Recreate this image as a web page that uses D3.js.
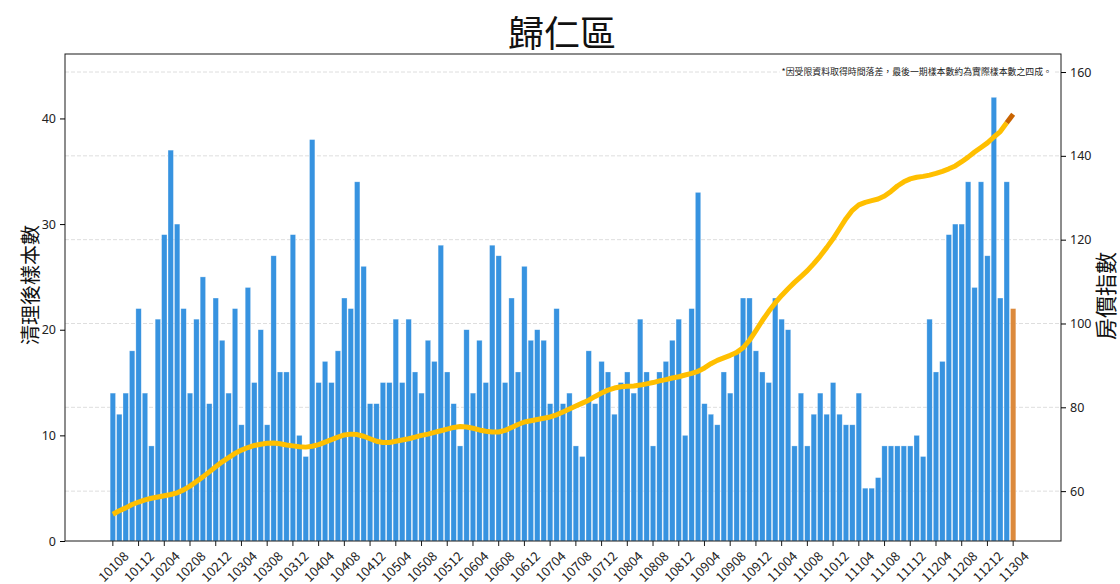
<!DOCTYPE html>
<html>
<head>
<meta charset="utf-8">
<script src="https://cdn.jsdelivr.net/npm/d3@7/dist/d3.min.js"></script>
<style>
    body { margin: 0; background: white; }
    text { font-family: "Noto Sans CJK TC", "Noto Sans", sans-serif; }
</style>
</head>
<body>
<div id="chart"></div>
<script>
// month codes (ROC year + month), 10108 .. 11304
const START_YEAR = 101, START_MONTH = 8, MONTH_COUNT = 141;
const MONTHS = [];
for (let i = 0; i < MONTH_COUNT; i++) {
    let m = START_MONTH - 1 + i;
    let y = START_YEAR + Math.floor(m / 12);
    MONTHS.push(String(y) + String(m % 12 + 1).padStart(2, "0"));
}

const TICK_LABELS = [
    "10108", "10112", "10204", "10208", "10212", "10304", "10308", "10312",
    "10404", "10408", "10412", "10504", "10508", "10512", "10604", "10608",
    "10612", "10704", "10708", "10712", "10804", "10808", "10812", "10904",
    "10908", "10912", "11004", "11008", "11012", "11104", "11108", "11112",
    "11204", "11208", "11212", "11304"
];

// 清理後樣本數 (left axis)
const SAMPLE_COUNTS = [
    14, 12, 14, 18, 22, 14, 9, 21, 29, 37, 30, 22, 14, 21, 25, 13, 23, 19, 14, 22,
    11, 24, 15, 20, 11, 27, 16, 16, 29, 10, 8, 38, 15, 17, 15, 18, 23, 22, 34, 26,
    13, 13, 15, 15, 21, 15, 21, 16, 14, 19, 17, 28, 16, 13, 9, 20, 14, 19, 15, 28,
    27, 15, 23, 16, 26, 19, 20, 19, 13, 22, 13, 14, 9, 8, 18, 13, 17, 16, 12, 15,
    16, 14, 21, 16, 9, 16, 17, 19, 21, 10, 22, 33, 13, 12, 11, 16, 14, 18, 23, 23,
    18, 16, 15, 23, 21, 20, 9, 14, 9, 12, 14, 12, 15, 12, 11, 11, 14, 5, 5, 6,
    9, 9, 9, 9, 9, 10, 8, 21, 16, 17, 29, 30, 30, 34, 24, 34, 27, 42, 23, 34,
    22
];

// 房價指數 (right axis)
const PRICE_INDEX = [
    54.5, 55.3, 56.0, 56.8, 57.4, 57.9, 58.3, 58.6, 58.9, 59.2,
    59.6, 60.3, 61.2, 62.3, 63.4, 64.6, 65.8, 67.0, 68.0, 69.0,
    69.8, 70.4, 70.9, 71.2, 71.4, 71.5, 71.3, 71.0, 70.8, 70.6,
    70.5, 70.7, 71.1, 71.7, 72.3, 72.9, 73.4, 73.6, 73.5, 73.1,
    72.5, 71.9, 71.6, 71.6, 71.9, 72.2, 72.5, 72.9, 73.3, 73.6,
    74.0, 74.4, 74.8, 75.2, 75.4, 75.3, 75.0, 74.6, 74.3, 74.1,
    74.1, 74.5, 75.2, 75.9, 76.5, 76.8, 77.1, 77.4, 77.7, 78.2,
    78.9, 79.6, 80.3, 81.0, 81.7, 82.6, 83.4, 84.1, 84.6, 84.9,
    85.0, 85.1, 85.3, 85.6, 85.9, 86.3, 86.6, 87.0, 87.3, 87.7,
    88.1, 88.6, 89.4, 90.4, 91.2, 91.8, 92.4, 93.1, 94.2, 96.0,
    98.3, 100.7, 102.9, 104.9, 106.7, 108.3, 109.8, 111.2, 112.6, 114.3,
    116.1, 118.1, 120.2, 122.6, 125.0, 127.0, 128.3, 128.9, 129.3, 129.7,
    130.4, 131.5, 132.8, 133.8, 134.5, 134.9, 135.1, 135.4, 135.8, 136.3,
    136.9, 137.6, 138.6, 139.7, 140.9, 142.0, 143.1, 144.5, 145.8, 147.9,
    149.9
];

const LEFT_TICKS = [0, 10, 20, 30, 40];
const RIGHT_TICKS = [60, 80, 100, 120, 140, 160];

const TITLE = "歸仁區";
const LEFT_LABEL = "清理後樣本數";
const RIGHT_LABEL = "房價指數";
const NOTE = "*因受限資料取得時間落差，最後一期樣本數約為實際樣本數之四成。";

const MARGIN = {left: 65, right: 59, top: 54, bottom: 43};
const BAR_COLOR = "#3793e0";
const LAST_BAR_COLOR = "#dc8a3c";
const LINE_COLOR = "#ffbf00";
const LAST_LINE_COLOR = "#c96400";

const renderChart = () => {
    let fullWidth = 1120, fullHeight = 584;
    let width = fullWidth - MARGIN.left - MARGIN.right;
    let height = fullHeight - MARGIN.top - MARGIN.bottom;

    let svg = d3.select("#chart")
        .append("svg")
            .attr("width", fullWidth)
            .attr("height", fullHeight)
            .style("display", "block")
            .style("background-color", "white");

    let g = svg.append("g")
        .attr("transform", "translate(" + MARGIN.left + "," + MARGIN.top + ")");

    // x: bar index with matplotlib-like 5% padding
    let n = MONTHS.length;
    let pad = (n - 1 + 0.8) * 0.05 + 0.4;
    let xScale = d3.scaleLinear().domain([-pad, n - 1 + pad]).range([0, width]);
    let step = xScale(1) - xScale(0);
    let barW = step * 0.84;

    let yLeft = d3.scaleLinear().domain([0, 46.1]).range([height, 0]);
    let yRight = d3.scaleLinear().domain([48.1, 164.3]).range([height, 0]);

    // grid lines (right axis ticks)
    g.append("g")
        .selectAll("line")
        .data(RIGHT_TICKS)
        .join("line")
            .attr("x1", 0)
            .attr("x2", width)
            .attr("y1", d => yRight(d))
            .attr("y2", d => yRight(d))
            .attr("stroke", "#dedede")
            .attr("stroke-width", 1)
            .attr("stroke-dasharray", "4,2");

    // bars
    g.append("g")
        .selectAll("rect")
        .data(SAMPLE_COUNTS)
        .join("rect")
            .attr("x", (d, i) => xScale(i) - barW / 2)
            .attr("y", d => yLeft(d))
            .attr("width", barW)
            .attr("height", d => height - yLeft(d))
            .attr("fill", (d, i) => i === n - 1 ? LAST_BAR_COLOR : BAR_COLOR)
            .attr("stroke", "#ffffff")
            .attr("stroke-opacity", 0.5)
            .attr("stroke-width", 0.6);

    // price index line
    let line = d3.line()
        .x(d => xScale(d.i))
        .y(d => yRight(d.v));
    let pts = PRICE_INDEX.map((v, i) => ({i: i, v: v}));
    g.append("path")
        .datum(pts.slice(0, n - 1))
        .attr("fill", "none")
        .attr("stroke", LINE_COLOR)
        .attr("stroke-width", 5)
        .attr("stroke-linejoin", "round")
        .attr("d", line);
    g.append("path")
        .datum(pts.slice(n - 2))
        .attr("fill", "none")
        .attr("stroke", LAST_LINE_COLOR)
        .attr("stroke-width", 5)
        .attr("d", line);

    // note
    let note = g.append("text")
        .attr("x", width - 9)
        .attr("y", yRight(160) + 3)
        .attr("text-anchor", "end")
        .attr("font-size", "8.9px")
        .attr("fill", "#222")
        .text(NOTE);
    let bb = note.node().getBBox();
    g.insert("rect", "text")
        .attr("x", bb.x - 2)
        .attr("y", bb.y)
        .attr("width", bb.width + 4)
        .attr("height", bb.height)
        .attr("fill", "white");

    // frame
    g.append("rect")
        .attr("width", width)
        .attr("height", height)
        .attr("fill", "none")
        .attr("stroke", "#1a1a1a")
        .attr("stroke-width", 1);

    // x axis
    let tickIdx = TICK_LABELS.map(t => MONTHS.indexOf(t));
    let xAxis = g.append("g")
        .attr("transform", "translate(0," + height + ")");
    xAxis.selectAll("line")
        .data(tickIdx)
        .join("line")
            .attr("x1", d => xScale(d))
            .attr("x2", d => xScale(d))
            .attr("y1", 0)
            .attr("y2", 5)
            .attr("stroke", "#1a1a1a");
    xAxis.selectAll("text")
        .data(tickIdx)
        .join("text")
            .attr("text-anchor", "middle")
            .attr("dominant-baseline", "central")
            .attr("font-size", "13px")
            .attr("fill", "#222")
            .attr("transform", d => "translate(" + xScale(d) + ",25) rotate(-45)")
            .text(d => MONTHS[d]);

    // left axis
    g.append("g")
        .call(d3.axisLeft(yLeft)
            .tickValues(LEFT_TICKS)
            .tickSize(5)
            .tickPadding(4))
        .call(a => a.select(".domain").remove())
        .selectAll(".tick text")
            .attr("font-size", "12.5px")
            .attr("fill", "#222")
            .style("font-family", "'Noto Sans', sans-serif");

    // right axis
    g.append("g")
        .attr("transform", "translate(" + width + ",0)")
        .call(d3.axisRight(yRight)
            .tickValues(RIGHT_TICKS)
            .tickSize(5)
            .tickPadding(4))
        .call(a => a.select(".domain").remove())
        .selectAll(".tick text")
            .attr("font-size", "12.5px")
            .attr("fill", "#222")
            .style("font-family", "'Noto Sans', sans-serif");

    // axis titles
    svg.append("text")
        .attr("transform", "translate(29,285) rotate(-90)")
        .attr("text-anchor", "middle")
        .attr("dominant-baseline", "central")
        .attr("font-size", "20px")
        .attr("fill", "#111")
        .text(LEFT_LABEL);
    svg.append("text")
        .attr("transform", "translate(1104,296) rotate(-90)")
        .attr("text-anchor", "middle")
        .attr("dominant-baseline", "central")
        .attr("font-size", "22px")
        .attr("fill", "#111")
        .text(RIGHT_LABEL);

    // title
    svg.append("text")
        .attr("x", 562)
        .attr("y", 31)
        .attr("text-anchor", "middle")
        .attr("dominant-baseline", "central")
        .attr("font-size", "36px")
        .attr("fill", "#111")
        .text(TITLE);
}

renderChart();
</script>
</body>
</html>
